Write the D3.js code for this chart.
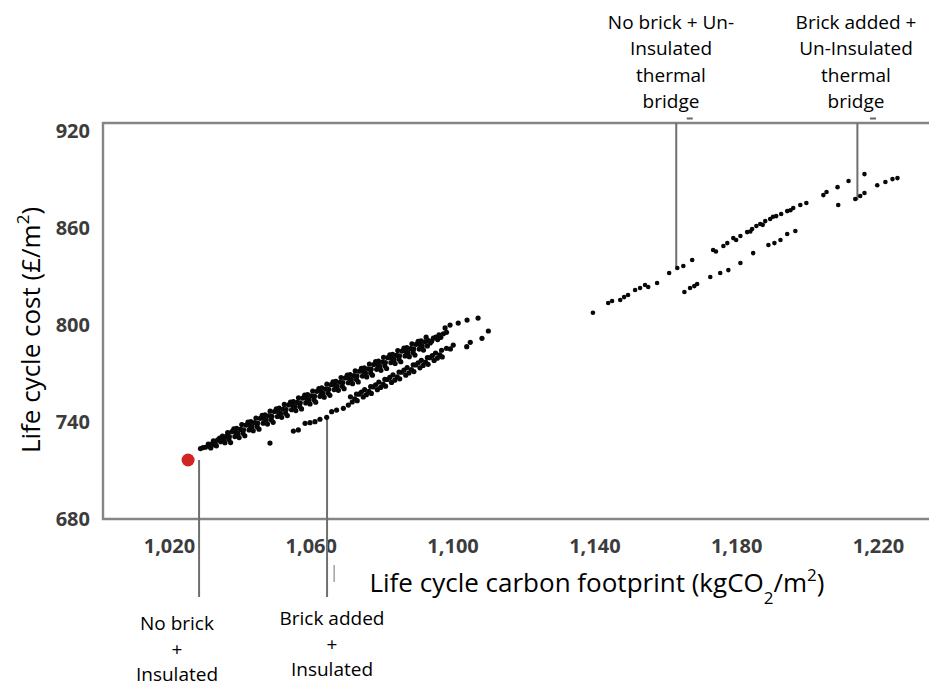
<!DOCTYPE html>
<html>
<head>
<meta charset="utf-8">
<script src="https://cdn.jsdelivr.net/npm/d3@7"></script>
<style>
body { margin:0; background:#fff; }
text { font-family:"Open Sans", "Noto Sans", sans-serif; }
</style>
</head>
<body>
<svg id="chart" width="929" height="687"></svg>
<script>

// chart values
// ------------
var xTicks = [1020, 1060, 1100, 1140, 1180, 1220];
var yTicks = [680, 740, 800, 860, 920];

// optimum (red)
var bestPoint = [1025.4, 716.5];

// no brick + insulated thermal bridge (upper left band)
var noBrickInsulated = [
  [1028.9,723.6],[1029.6,724.2],[1030.3,724.4],
  [1031.1,726.4],[1031.45,725.0],[1031.8,724.0],[1032.2,726.7],[1032.55,728.4],[1032.9,725.8],
  [1033.05,727.0],[1033.4,725.3],[1033.75,728.9],[1034.3,730.0],[1034.6,727.8],[1034.95,729.3],
  [1035.1,731.3],[1035.45,728.9],[1035.8,727.2],[1036.2,731.1],[1036.55,733.4],[1036.9,729.4],
  [1037.05,731.0],[1037.4,727.3],[1037.75,734.0],[1038.3,735.7],[1038.6,731.0],[1038.95,733.5],
  [1039.1,736.1],[1039.45,732.8],[1039.8,730.4],[1040.2,735.4],[1040.55,738.4],[1040.9,733.0],
  [1041.05,735.2],[1041.4,731.5],[1041.75,738.1],[1042.3,739.9],[1042.6,735.1],[1042.95,737.7],
  [1043.1,740.2],[1043.45,737.0],[1043.8,734.6],[1044.2,739.6],[1044.55,742.5],[1044.9,737.1],
  [1045.05,739.4],[1045.4,735.6],[1045.75,742.3],[1046.3,744.1],[1046.6,739.3],[1046.95,741.8],
  [1047.1,744.4],[1047.45,741.2],[1047.8,738.7],[1048.2,743.8],[1048.55,746.7],[1048.9,741.3],
  [1049.05,743.5],[1049.4,739.8],[1049.75,746.5],[1050.3,748.2],[1050.6,743.4],[1050.95,746.0],
  [1051.1,748.6],[1051.45,745.3],[1051.8,742.9],[1052.2,747.9],[1052.55,750.9],[1052.9,745.4],
  [1053.05,747.7],[1053.4,744.0],[1053.75,750.6],[1054.3,752.4],[1054.6,747.6],[1054.95,750.2],
  [1055.1,752.7],[1055.45,749.5],[1055.8,747.1],[1056.2,752.1],[1056.55,755.0],[1056.9,749.6],
  [1057.05,751.9],[1057.4,748.1],[1057.75,754.8],[1058.3,756.6],[1058.6,751.8],[1058.95,754.3],
  [1059.1,756.9],[1059.45,753.7],[1059.8,751.2],[1060.2,756.2],[1060.55,759.2],[1060.9,753.8],
  [1061.05,756.0],[1061.4,752.3],[1061.75,759.0],[1062.3,760.7],[1062.6,755.9],[1062.95,758.5],
  [1063.1,761.1],[1063.45,757.8],[1063.8,755.4],[1064.2,760.4],[1064.55,763.4],[1064.9,757.9],
  [1065.05,760.2],[1065.4,756.5],[1065.75,763.1],[1066.3,764.9],[1066.6,760.1],[1066.95,762.7],
  [1067.1,765.2],[1067.45,762.0],[1067.8,759.6],[1068.2,764.6],[1068.55,767.5],[1068.9,762.1],
  [1069.05,764.4],[1069.4,760.6],[1069.75,767.3],[1070.3,769.1],[1070.6,764.3],[1070.95,766.8],
  [1071.1,769.4],[1071.45,766.2],[1071.8,763.7],[1072.2,768.7],[1072.55,771.7],[1072.9,766.3],
  [1073.05,768.5],[1073.4,764.8],[1073.75,771.4],[1074.3,773.2],[1074.6,768.4],[1074.95,771.0],
  [1075.1,773.5],[1075.45,770.3],[1075.8,767.9],[1076.2,772.9],[1076.55,775.9],[1076.9,770.4],
  [1077.05,772.7],[1077.4,769.0],[1077.75,775.6],[1078.3,777.4],[1078.6,772.6],[1078.95,775.2],
  [1079.1,777.7],[1079.45,774.5],[1079.8,772.0],[1080.2,777.1],[1080.55,780.0],[1080.9,774.6],
  [1081.05,776.8],[1081.4,773.1],[1081.75,779.8],[1082.3,781.5],[1082.6,776.8],[1082.95,779.3],
  [1083.1,781.9],[1083.45,778.6],[1083.8,776.2],[1084.2,781.2],[1084.55,784.2],[1084.9,778.8],
  [1085.05,781.0],[1085.4,777.3],[1085.75,783.9],[1086.3,785.7],[1086.6,780.9],[1086.95,783.5],
  [1087.1,786.0],[1087.45,782.8],[1087.8,780.4],[1088.2,785.4],[1088.55,788.4],[1088.9,782.9],
  [1089.05,785.2],[1089.4,781.4],[1089.75,788.1],[1090.3,789.9],[1090.6,785.1],[1090.95,787.7],
  [1091.1,790.2],[1091.45,787.0],[1091.8,784.5],[1092.2,789.6],[1092.55,792.5],[1092.9,787.1],
  [1093.2,790.4],[1093.7,788.9],[1094.1,789.9],[1094.6,791.9],[1095.3,792.5],[1095.8,791.0],
  [1096.2,793.9],[1096.7,792.4],[1097.4,794.6],[1098.3,795.5],
  [1097.9,798.2],[1099.3,800.0],[1101.6,801.2],[1104.1,803.1],[1107.2,804.3]
];

// brick added + insulated thermal bridge (lower left band)
var brickInsulated = [
  [1048.5,727.0],
  [1055.1,734.4],[1056.5,735.1],[1058.4,739.2],[1059.8,739.6],[1061.2,740.2],[1062.6,741.7],
  [1064.5,742.9],[1065.9,746.4],[1067.3,747.4],[1069.2,748.5],[1070.6,750.5],
  [1071.2,755.6],[1071.7,752.4],[1072.4,754.4],[1072.9,757.3],[1073.1,753.2],[1073.6,757.2],
  [1074.3,758.5],[1074.8,755.5],[1075.2,760.1],[1075.7,756.9],[1076.4,758.9],[1076.9,761.9],
  [1077.1,757.7],[1077.6,761.7],[1078.3,763.0],[1078.8,760.0],[1079.2,764.7],[1079.7,761.4],
  [1080.4,763.4],[1080.9,766.4],[1081.1,762.2],[1081.6,766.3],[1082.3,767.6],[1082.8,764.5],
  [1083.2,769.2],[1083.7,765.9],[1084.4,767.9],[1084.9,770.9],[1085.1,766.7],[1085.6,770.8],
  [1086.3,772.1],[1086.8,769.0],[1087.2,773.7],[1087.7,770.4],[1088.4,772.4],[1088.9,775.4],
  [1089.1,771.2],[1089.6,775.3],[1090.3,776.6],[1090.8,773.5],[1091.2,778.2],[1091.7,775.0],
  [1092.4,777.0],[1092.9,779.9],[1093.1,775.7],[1093.6,779.8],[1094.3,781.1],[1094.8,778.1],
  [1095.2,782.7],[1095.7,779.5],[1096.4,781.5],[1096.9,784.4],[1097.1,780.3],[1098.3,785.6],
  [1099.4,785.2],[1100.2,787.6],[1104.0,786.6],[1105.0,789.3],[1108.3,791.8],[1110.1,796.3]
];

// no brick + un-insulated thermal bridge (upper right line)
var noBrickUninsulated = [
  [1139.6,807.6],[1143.9,813.6],[1145.0,814.9],[1147.3,815.5],[1148.4,817.3],[1149.5,818.6],
  [1151.5,821.7],[1152.9,822.9],[1154.3,824.8],[1155.2,823.5],[1157.7,826.0],[1161.1,832.2],
  [1163.4,835.3],[1165.1,836.5],[1167.6,840.2],[1173.5,846.4],[1174.3,845.5],[1176.4,848.9],
  [1177.5,850.7],[1179.2,853.8],[1180.0,852.6],[1181.2,855.1],[1183.1,857.5],[1184.0,857.9],
  [1184.5,859.4],[1185.7,861.3],[1186.8,862.5],[1187.5,862.0],[1188.2,864.3],[1189.6,865.6],
  [1190.4,867.0],[1191.3,867.4],[1192.7,868.7],[1194.4,870.5],[1195.3,871.0],[1196.1,872.4],
  [1198.1,874.3],[1199.8,875.5],[1204.6,880.4],[1205.5,882.3],[1208.6,885.3],[1211.7,889.1],
  [1216.2,893.4]
];

// brick added + un-insulated thermal bridge (lower right line)
var brickUninsulated = [
  [1165.4,820.4],[1167.0,822.9],[1168.2,824.1],[1169.0,825.4],[1172.7,829.7],[1175.5,832.2],
  [1177.8,834.0],[1181.2,838.4],[1184.8,844.5],[1189.1,849.5],[1190.8,850.7],[1192.5,852.6],
  [1194.4,856.3],[1196.7,858.2],[1208.8,874.3],[1213.6,878.0],[1215.0,879.8],[1216.2,881.7],
  [1219.8,886.5],[1222.1,888.5],[1224.1,890.3],[1225.5,890.9]
];

// annotations: label lines and the point each leader line touches
var annoLabels = [
  ["No brick", "+", "Insulated"],
  ["Brick added", "+", "Insulated"],
  ["No brick + Un-", "Insulated", "thermal", "bridge"],
  ["Brick added +", "Un-Insulated", "thermal", "bridge"]
];
var annoX = [1028.5, 1064.6, 1163.1, 1214.2];
var annoY = [716.5, 743.1, 835.9, 877.3];

// layout
// ------
var svg = d3.select("#chart");
var nLeft = 103, nRight = 929, nTop = 123, nBottom = 519;

var x = d3.scaleLinear().domain([1001.4, 1234.4]).range([nLeft, nRight]);
var y = d3.scaleLinear().domain([680, 925]).range([nBottom, nTop]);

// frame
// -----
svg.append("path")
  .attr("d", "M" + nRight + "," + nTop + "H" + nLeft + "V" + nBottom + "H" + nRight)
  .attr("style", "fill:none;stroke:#858585;stroke-width:2.4;");

// small marks on top border (left over from the original arrows)
[1166.9, 1218.6].forEach(function(v){
  svg.append("line")
    .attr("x1", x(v) - 3).attr("x2", x(v) + 3)
    .attr("y1", nTop - 4.5).attr("y2", nTop - 4.5)
    .attr("style", "stroke:#666;stroke-width:2;");
});

// axes
// ----
var xAxis = svg.append("g")
  .attr("transform", "translate(0," + nBottom + ")")
  .call(d3.axisBottom(x).tickValues(xTicks).tickFormat(d3.format(",")).tickSize(0).tickPadding(20));
xAxis.select(".domain").remove();

var yAxis = svg.append("g")
  .attr("transform", "translate(" + nLeft + ",0)")
  .call(d3.axisLeft(y).tickValues(yTicks).tickSize(0).tickPadding(13));
yAxis.select(".domain").remove();

svg.selectAll(".tick text")
  .attr("style", "font-family:'Open Sans',sans-serif;font-size:20px;font-weight:700;fill:#3c3c3c;");

// axis titles
// -----------
var xTitle = svg.append("text")
  .attr("x", 597).attr("y", 592)
  .attr("text-anchor", "middle")
  .attr("style", "font-size:26px;fill:#000;");
xTitle.append("tspan").text("Life cycle carbon footprint (kgCO");
xTitle.append("tspan").attr("baseline-shift", "sub").attr("style", "font-size:17px;").text("2");
xTitle.append("tspan").text("/m");
xTitle.append("tspan").attr("baseline-shift", "super").attr("style", "font-size:17px;").text("2");
xTitle.append("tspan").text(")");

var yTitle = svg.append("text")
  .attr("transform", "translate(40,330) rotate(-90)")
  .attr("text-anchor", "middle")
  .attr("style", "font-size:26px;fill:#000;");
yTitle.append("tspan").text("Life cycle cost (£/m");
yTitle.append("tspan").attr("baseline-shift", "super").attr("style", "font-size:17px;").text("2");
yTitle.append("tspan").text(")");

// leader lines
// ------------
var annoLabelX = [177, 332, 671, 856];
var annoLabelY = [630, 625, 28.5, 28.5];
var aLineHeight = [25.5, 25.5, 26.5, 26.5];

annoX.forEach(function(v, i){
  var bTop = i > 1;
  svg.append("line")
    .attr("x1", x(v)).attr("x2", x(v))
    .attr("y1", bTop ? nTop : y(annoY[i]))
    .attr("y2", bTop ? y(annoY[i]) : 597)
    .attr("style", "stroke:#6f6f6f;stroke-width:2;");
});
// short stray stroke below the 1,060 label
svg.append("line")
  .attr("x1", x(1066.6)).attr("x2", x(1066.6))
  .attr("y1", 565).attr("y2", 582)
  .attr("style", "stroke:#8a8a8a;stroke-width:1.2;");

// scatter points
// --------------
[noBrickInsulated, brickInsulated, noBrickUninsulated, brickUninsulated].forEach(function(series, i){
  svg.append("g").selectAll("circle")
    .data(series)
    .enter().append("circle")
    .attr("cx", function(d){ return x(d[0]); })
    .attr("cy", function(d){ return y(d[1]); })
    .attr("r", i < 2 ? 2.6 : 2.3)
    .attr("style", "fill:#080808;stroke:none;");
});

svg.append("circle")
  .attr("cx", x(bestPoint[0]))
  .attr("cy", y(bestPoint[1]))
  .attr("r", 6.5)
  .attr("style", "fill:#d12424;stroke:none;");

// annotation labels
// -----------------
annoLabels.forEach(function(lines, i){
  var t = svg.append("text")
    .attr("text-anchor", "middle")
    .attr("style", "font-size:19px;fill:#000;");
  lines.forEach(function(s, k){
    t.append("tspan")
      .attr("x", annoLabelX[i])
      .attr("y", annoLabelY[i] + k*aLineHeight[i])
      .text(s);
  });
});

</script>
</body>
</html>
